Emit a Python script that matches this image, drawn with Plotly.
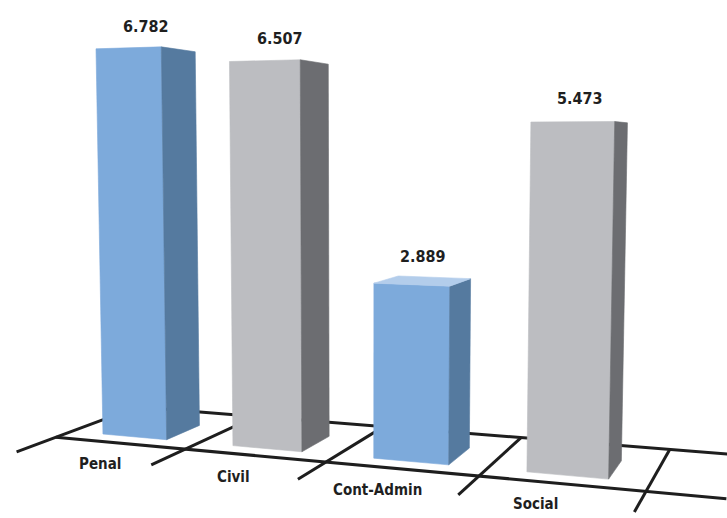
import numpy as np
import plotly.graph_objects as go

# ---------------- data ----------------
categories = ["Penal", "Civil", "Cont-Admin", "Social"]
values = [6.782, 6.507, 2.889, 5.473]
value_labels = ["6.782", "6.507", "2.889", "5.473"]
front_colors = ["#7DAADB", "#BCBDC1", "#7DAADB", "#BCBDC1"]
side_colors = ["#557A9F", "#6C6D71", "#557A9F", "#6C6D71"]
top_colors = ["#B3CDEB", "#D6D7DA", "#B3CDEB", "#D6D7DA"]

# ---------------- 3-D scene / camera settings ----------------
W, H = 727, 518
FOCAL = 1290.0
PX, PY = 363.0, 259.0
YAW = np.arctan(0.37)
PITCH = np.radians(5.05)
CAM = np.array([4.505, -7.445, 2.0])
Z_PER_UNIT = 0.3905          # world height per value unit
BAR_W = 0.5
BAR_Y0, BAR_Y1 = 0.2, 0.68   # bar depth extent
GRID_BACK = 1.1
GRID_FRONT_EXT = -0.45
GRID_X_END = 3.95

st, ct = np.sin(YAW), np.cos(YAW)
sp, cp = np.sin(PITCH), np.cos(PITCH)
RIGHT = np.array([ct, st, 0.0])
FWD = np.array([-st * cp, ct * cp, -sp])
UP = np.array([-st * sp, ct * sp, cp])


def proj(p):
    d = np.asarray(p, dtype=float) - CAM
    xc, yc, zc = d @ RIGHT, d @ UP, d @ FWD
    return PX + FOCAL * xc / zc, PY - FOCAL * yc / zc


fig = go.Figure()

LINE_COLOR = "#1E1E1E"


def add_line(p0, p1):
    a, b = proj(p0), proj(p1)
    fig.add_trace(go.Scatter(x=[a[0], b[0]], y=[a[1], b[1]], mode="lines",
                             line=dict(color=LINE_COLOR, width=3),
                             hoverinfo="skip", showlegend=False))


n = len(categories)
# floor grid: dividers between categories, front and back rails
for k in range(n + 1):
    xk = k - 0.5
    add_line((xk, GRID_FRONT_EXT, 0), (xk, GRID_BACK, 0))
add_line((-0.5, 0, 0), (GRID_X_END, 0, 0))
add_line((-0.5, GRID_BACK, 0), (GRID_X_END, GRID_BACK, 0))


def bar_faces(i, v):
    x0, x1 = i - BAR_W / 2, i + BAR_W / 2
    y0, y1 = BAR_Y0, BAR_Y1
    z0, z1 = 0.0, v * Z_PER_UNIT
    return [
        ([(x0, y0, z0), (x1, y0, z0), (x1, y0, z1), (x0, y0, z1)], (0, -1, 0), front_colors[i]),
        ([(x1, y0, z0), (x1, y1, z0), (x1, y1, z1), (x1, y0, z1)], (1, 0, 0), side_colors[i]),
        ([(x0, y0, z0), (x0, y1, z0), (x0, y1, z1), (x0, y0, z1)], (-1, 0, 0), side_colors[i]),
        ([(x0, y0, z1), (x1, y0, z1), (x1, y1, z1), (x0, y1, z1)], (0, 0, 1), top_colors[i]),
    ]


# bars drawn far to near, only camera-facing faces
order = sorted(range(n), key=lambda i: -np.linalg.norm(np.array([i, (BAR_Y0 + BAR_Y1) / 2, 0]) - CAM))
for i in order:
    for pts, normal, col in bar_faces(i, values[i]):
        c = np.mean(np.array(pts), axis=0)
        if np.dot(np.array(normal), c - CAM) >= 0:
            continue
        xy = [proj(p) for p in pts]
        xs = [q[0] for q in xy] + [xy[0][0]]
        ys = [q[1] for q in xy] + [xy[0][1]]
        fig.add_trace(go.Scatter(x=xs, y=ys, mode="lines", fill="toself",
                                 fillcolor=col, line=dict(color=col, width=0.6),
                                 hoverinfo="skip", showlegend=False))

FONT = "Liberation Sans Narrow, DejaVu Sans Condensed, Arial Narrow, sans-serif"

annotations = []
for i in range(n):
    tx, ty = proj((i, (BAR_Y0 + BAR_Y1) / 2, values[i] * Z_PER_UNIT))
    annotations.append(dict(x=tx, y=ty, xref="x", yref="y", text="<b>%s</b>" % value_labels[i],
                            showarrow=False, yshift=24, xanchor="center", yanchor="middle",
                            font=dict(family=FONT, size=16, color="#1F1F1F")))
    lx, ly = proj((i - 0.15, 0, 0))
    annotations.append(dict(x=lx, y=ly, xref="x", yref="y", text="<b>%s</b>" % categories[i],
                            showarrow=False, yshift=-23, xanchor="center", yanchor="middle",
                            font=dict(family=FONT, size=15, color="#1F1F1F")))

fig.update_layout(
    width=W, height=H, margin=dict(l=0, r=0, t=0, b=0),
    paper_bgcolor="white", plot_bgcolor="white", showlegend=False,
    xaxis=dict(range=[0, W], visible=False, fixedrange=True),
    yaxis=dict(range=[H, 0], visible=False, fixedrange=True),
    annotations=annotations,
)

fig.write_html("out.html", config={"displayModeBar": False},
               post_script="document.body.style.margin='0';document.body.style.overflow='hidden';")
